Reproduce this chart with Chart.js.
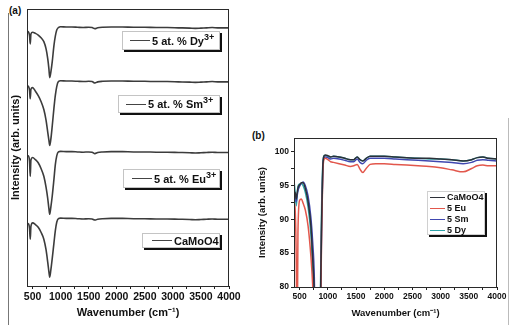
<!DOCTYPE html>
<html>
<head>
<meta charset="utf-8">
<script src="https://cdn.jsdelivr.net/npm/chart.js@4/dist/chart.umd.min.js"></script>
<style>
  html, body { margin: 0; padding: 0; background: #fff; }
  body { width: 511px; height: 325px; position: relative; overflow: hidden; font-family: 'Liberation Sans', Arial, sans-serif; color: #111; }
  canvas { position: absolute; }
  .tag { position: absolute; font-weight: bold; font-size: 10px; }
  .edge { position: absolute; width: 1px; background: #777; }
  .lgA { position: absolute; box-sizing: border-box; background: #fff; border: 1px solid #c4c4c4; box-shadow: 2px 2px 0 #111;
         font-weight: bold; font-size: 11px; white-space: nowrap; display: flex; align-items: center; }
  .lgA i { display: inline-block; width: 20px; height: 0; border-top: 1.5px solid #444; margin-right: 2px; }
  .lgA sup { font-size: 9px; line-height: 0; position: relative; top: -4px; vertical-align: baseline; }
  .lgB { position: absolute; left: 427px; top: 191px; width: 58px; height: 44px; box-sizing: border-box;
         border: 1px solid #d0d0d0; box-shadow: 2px 2px 0 #111; background: #fff; font-weight: bold; font-size: 9px; }
  .lgB div { height: 11px; line-height: 11px; display: flex; align-items: center; padding-left: 2px; }
  .lgB i { display: inline-block; width: 15px; height: 0; border-top: 1.4px solid; margin-right: 2px; }
</style>
</head>
<body>
<div class="edge" style="left:8px; top:13px; height:312px;"></div>
<div class="edge" style="left:508px; top:118px; height:207px; background:#bbb;"></div>
<div class="tag" style="left:9px; top:5px;">(a)</div>
<div class="tag" style="left:252px; top:130px;">(b)</div>

<canvas id="chartA" width="245" height="325" style="left:0; top:0;"></canvas>
<canvas id="chartB" width="261" height="205" style="left:250px; top:120px;"></canvas>

<div class="lgA" style="left:122px; top:31px; width:98px; height:19px; padding-left:7px;"><i></i>5 at. % Dy<sup>3+</sup></div>
<div class="lgA" style="left:118px; top:95px; width:102px; height:18px; padding-left:7px;"><i></i>5 at. % Sm<sup>3+</sup></div>
<div class="lgA" style="left:123px; top:169px; width:97px; height:19px; padding-left:8px;"><i></i>5 at. % Eu<sup>3+</sup></div>
<div class="lgA" style="left:142px; top:233px; width:78px; height:15px; padding-left:9px;"><i></i>CaMoO4</div>

<div class="lgB">
  <div><i style="color:#2d3038"></i>CaMoO4</div>
  <div><i style="color:#e2574c"></i>5 Eu</div>
  <div><i style="color:#4048b0"></i>5 Sm</div>
  <div><i style="color:#2fa3a8"></i>5 Dy</div>
</div>

<script>
// ---- panel (a): stacked spectra, arbitrary offset units ----
const waveA = [400, 430, 445, 458, 470, 500, 550, 600, 650, 700, 740, 770, 790, 805, 825, 850, 880, 905, 930, 960,
  1000, 1100, 1200, 1300, 1400, 1500, 1560, 1610, 1660, 1750, 1900, 2100, 2300, 2500, 2700, 2900, 3100, 3300,
  3400, 3500, 3600, 3700, 3800, 3900, 4000];
const dyA = [92.0, 91.6, 90.4, 87.4, 91.0, 91.6, 91.2, 90.6, 89.6, 88.2, 85.6, 82.0, 78.5, 75.2, 77.2, 81.0, 86.8, 90.2, 92.4, 93.3,
  93.6, 93.5, 93.5, 93.4, 93.3, 93.4, 93.3, 92.9, 93.2, 93.4, 93.5, 93.5, 93.4, 93.4, 93.3, 93.3, 93.2, 93.1,
  93.0, 93.1, 93.2, 93.3, 93.2, 93.2, 93.2];
const smA = [72.3, 71.9, 70.6, 67.6, 71.0, 71.6, 70.3, 68.7, 66.6, 63.7, 59.8, 55.5, 52.7, 50.7, 53.0, 57.8, 64.2, 68.8, 72.0, 73.8,
  74.1, 74.0, 74.0, 73.9, 73.8, 73.9, 73.8, 73.3, 73.7, 73.9, 74.0, 74.0, 73.9, 73.9, 73.8, 73.8, 73.7, 73.6,
  73.5, 73.6, 73.7, 73.8, 73.7, 73.7, 73.7];
const euA = [47.1, 46.8, 45.0, 39.6, 45.5, 46.4, 45.6, 44.5, 42.4, 39.6, 35.6, 31.5, 28.0, 25.9, 28.5, 32.5, 38.5, 43.8, 47.0, 48.4,
  48.6, 48.5, 48.5, 48.4, 48.3, 48.4, 48.3, 47.8, 48.2, 48.4, 48.5, 48.5, 48.4, 48.4, 48.3, 48.3, 48.2, 48.1,
  48.0, 48.1, 48.2, 48.3, 48.2, 48.2, 48.2];
const caA = [22.7, 22.3, 20.8, 16.9, 21.5, 22.8, 22.2, 21.2, 19.4, 16.9, 13.0, 8.5, 5.2, 3.2, 5.8, 10.0, 15.5, 20.0, 23.0, 24.3,
  24.5, 24.4, 24.4, 24.3, 24.2, 24.3, 24.2, 23.8, 24.1, 24.3, 24.4, 24.4, 24.3, 24.3, 24.2, 24.2, 24.1, 24.0,
  23.9, 24.0, 24.1, 24.2, 24.1, 24.1, 24.1];

// ---- panel (b): overlaid spectra ----
const waveB = [400, 420, 440, 455, 470, 500, 530, 560, 600, 650, 700, 730, 760, 800, 840, 870, 890, 910, 930, 960,
  1000, 1050, 1100, 1200, 1300, 1400, 1460, 1520, 1570, 1620, 1680, 1750, 1850, 2000, 2200, 2400, 2600, 2800,
  3000, 3200, 3400, 3550, 3650, 3750, 3850, 4000];
const caB = [93.5, 94.0, 93.0, 93.8, 94.6, 95.1, 95.4, 95.4, 94.6, 92.6, 89.0, 84.5, 79.0, 60.0, 55.0, 78.0, 90.0, 97.5, 99.3, 99.5,
  99.4, 99.2, 99.3, 99.2, 99.0, 98.8, 98.8, 99.2, 98.8, 98.6, 99.0, 99.3, 99.3, 99.3, 99.2, 99.1, 99.0, 99.0,
  98.9, 98.8, 98.6, 98.8, 99.1, 99.2, 99.0, 98.9];
const euB = [92.5, 91.5, 84.0, 70.0, 88.0, 92.8, 93.0, 92.4, 91.4, 89.0, 84.5, 80.5, 74.0, 55.0, 52.0, 74.0, 88.0, 96.5, 98.8, 99.0,
  98.8, 98.5, 98.4, 98.2, 98.0, 97.8, 97.9, 98.1, 97.4, 96.9, 97.5, 98.1, 98.2, 98.2, 98.1, 98.0, 97.9, 97.8,
  97.6, 97.3, 97.0, 97.5, 97.9, 98.0, 97.9, 97.9];
const smB = [93.0, 93.5, 92.6, 93.4, 94.2, 94.9, 95.3, 95.5, 95.0, 93.4, 90.2, 86.8, 81.5, 62.0, 55.0, 76.0, 89.0, 97.0, 99.1, 99.2,
  99.1, 98.9, 99.0, 98.9, 98.7, 98.5, 98.5, 98.9, 98.4, 98.2, 98.7, 99.0, 99.0, 99.0, 98.9, 98.8, 98.7, 98.6,
  98.5, 98.4, 98.2, 98.4, 98.7, 98.8, 98.7, 98.6];
const dyB = [95.7, 94.0, 92.0, 93.5, 94.8, 95.2, 95.3, 95.0, 94.0, 91.8, 87.8, 83.0, 77.5, 58.0, 56.0, 80.0, 92.0, 98.0, 99.4, 99.4,
  99.3, 99.2, 99.3, 99.2, 99.0, 98.8, 98.8, 99.2, 98.8, 98.6, 99.0, 99.3, 99.3, 99.3, 99.2, 99.1, 99.0, 98.9,
  98.9, 98.8, 98.6, 98.8, 99.1, 99.2, 99.0, 98.9];

const xTicks = [500, 750, 1000, 1250, 1500, 1750, 2000, 2250, 2500, 2750, 3000, 3250, 3500, 3750, 4000];
const yTicksB = [80, 82.5, 85, 87.5, 90, 92.5, 95, 97.5, 100];

const FONT = "'Liberation Sans', Arial, sans-serif";

const frame = {
  id: 'frame',
  afterDatasetsDraw(chart) {
    const { ctx, chartArea: a } = chart;
    ctx.save();
    ctx.strokeStyle = '#2a2a2a';
    ctx.lineWidth = 1;
    ctx.strokeRect(a.left + 0.5, a.top + 0.5, a.right - a.left - 1, a.bottom - a.top);
    ctx.restore();
  }
};

function pts(xs, ys) {
  return xs.map((x, i) => ({ x, y: ys[i] }));
}

function line(label, xs, ys, color, width) {
  return {
    label,
    data: pts(xs, ys),
    borderColor: color,
    borderWidth: width,
    pointRadius: 0,
    cubicInterpolationMode: 'monotone',
    fill: false
  };
}

function xScale(fontSize, titleSize, titlePad, height) {
  return {
    type: 'linear',
    min: 400,
    max: 4000,
    afterBuildTicks: s => { s.ticks = xTicks.map(v => ({ value: v })); },
    afterFit: s => { s.height = height; },
    border: { display: false },
    grid: { drawOnChartArea: false, drawTicks: true, tickLength: 3, color: '#222' },
    ticks: {
      autoSkip: false,
      maxRotation: 0,
      padding: 2,
      color: '#111',
      font: { family: FONT, size: fontSize, weight: 'bold' },
      callback: v => (v % 500 === 0 ? String(v) : '')
    },
    title: {
      display: true,
      text: 'Wavenumber (cm⁻¹)',
      color: '#111',
      padding: { top: 0, bottom: titlePad },
      font: { family: FONT, size: titleSize, weight: 'bold' }
    }
  };
}

new Chart(document.getElementById('chartA'), {
  type: 'line',
  data: {
    datasets: [
      line('5 at. % Dy3+', waveA, dyA, '#3c3c3c', 1.6),
      line('5 at. % Sm3+', waveA, smA, '#3c3c3c', 1.6),
      line('5 at. % Eu3+', waveA, euA, '#3c3c3c', 1.6),
      line('CaMoO4', waveA, caA, '#3c3c3c', 1.6)
    ]
  },
  options: {
    responsive: false,
    animation: false,
    layout: { padding: { top: 9, right: 16, left: 0, bottom: 0 } },
    plugins: { legend: { display: false }, tooltip: { enabled: false } },
    scales: {
      x: xScale(10.5, 11, 5, 39),
      y: {
        min: 0,
        max: 100,
        afterFit: s => { s.width = 27; },
        border: { display: false },
        grid: { display: false },
        ticks: { display: false },
        title: {
          display: true,
          text: 'Intensity (arb. units)',
          color: '#111',
          padding: { top: 9, bottom: 0 },
          font: { family: FONT, size: 11, weight: 'bold' }
        }
      }
    }
  },
  plugins: [frame]
});

new Chart(document.getElementById('chartB'), {
  type: 'line',
  data: {
    datasets: [
      line('CaMoO4', waveB, caB, '#2d3038', 1.5),
      line('5 Eu', waveB, euB, '#e2574c', 1.5),
      line('5 Sm', waveB, smB, '#4048b0', 1.5),
      line('5 Dy', waveB, dyB, '#2fa3a8', 1.5)
    ]
  },
  options: {
    responsive: false,
    animation: false,
    layout: { padding: { top: 18, right: 14, left: 0, bottom: 0 } },
    plugins: { legend: { display: false }, tooltip: { enabled: false } },
    scales: {
      x: xScale(8.5, 9.5, 6, 38),
      y: {
        min: 80,
        max: 102,
        afterBuildTicks: s => { s.ticks = yTicksB.map(v => ({ value: v })); },
        afterFit: s => { s.width = 44; },
        border: { display: false },
        grid: { drawOnChartArea: false, drawTicks: true, tickLength: 3, color: '#222' },
        ticks: {
          autoSkip: false,
          padding: 2,
          color: '#111',
          font: { family: FONT, size: 8.5, weight: 'bold' },
          callback: v => (v % 5 === 0 ? String(v) : '')
        },
        title: {
          display: true,
          text: 'Intensity (arb. units)',
          color: '#111',
          padding: { top: 7, bottom: 0 },
          font: { family: FONT, size: 9.5, weight: 'bold' }
        }
      }
    }
  },
  plugins: [frame]
});
</script>
</body>
</html>
